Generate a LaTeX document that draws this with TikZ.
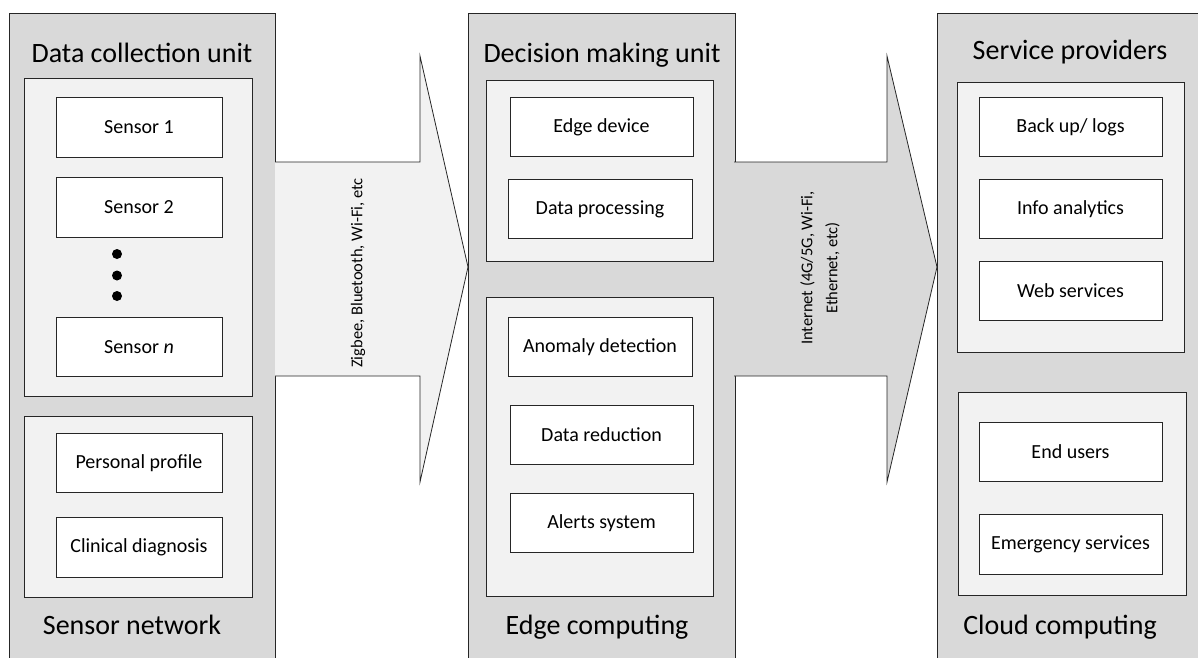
\documentclass[tikz,border=0pt]{standalone}
\usepackage{fontspec}
\setmainfont{Carlito}
\definecolor{colgray}{HTML}{D9D9D9}
\definecolor{inngray}{HTML}{F2F2F2}
\begin{document}
\begin{tikzpicture}[x=1pt,y=-1pt,
  colbox/.style={draw=black!85, line width=0.8pt, fill=colgray, anchor=north west, inner sep=0pt},
  innbox/.style={draw=black!85, line width=0.8pt, fill=inngray, anchor=north west, inner sep=0pt},
  itembox/.style={draw=black!85, line width=0.8pt, fill=white, inner sep=0pt, minimum height=59.5pt, font=\fontsize{20}{24}\selectfont},
  title/.style={anchor=base, inner sep=0pt, font=\fontsize{28}{32}\selectfont},
  arrowlbl/.style={rotate=90, inner sep=0pt, align=center, font=\fontsize{16.5}{25}\selectfont},
  arrowshape/.style={draw=black!85, line width=0.8pt, line join=miter}
]
\useasboundingbox (0,0) rectangle (1198,657);
\clip (0,0) rectangle (1198,657);

% columns
\node[colbox, minimum width=266pt, minimum height=670pt] (colL) at (9,13) {};
\node[colbox, minimum width=267pt, minimum height=670pt] (colM) at (468,13) {};
\node[colbox, minimum width=290pt, minimum height=670pt] (colR) at (937,13) {};

% arrows
\fill[inngray] (275,162) -- (420,162) -- (420,56) -- (468,267) -- (420,482) -- (420,376) -- (275,376) -- cycle;
\draw[arrowshape] (275,162) -- (420,162) -- (420,56) -- (468,267) -- (420,482) -- (420,376) -- (275,376);
\fill[colgray] (734,162) -- (887,162) -- (887,56) -- (937,267) -- (887,482) -- (887,376) -- (734,376) -- cycle;
\draw[arrowshape] (734,162) -- (887,162) -- (887,56) -- (937,267) -- (887,482) -- (887,376) -- (734,376);

\node[arrowlbl] (lbl1) at (358,273) {Zigbee, Bluetooth, Wi-Fi, etc};
\node[arrowlbl] (lbl2) at (820,268) {Internet (4G/5G, Wi-Fi,\\Ethernet, etc)};

% titles
\node[title] (tL) at (142,62.5) {Data collection unit};
\node[title] (tM) at (602,62) {Decision making unit};
\node[title] (tR) at (1070,59) {Service providers};
\node[title] (bL) at (132,634) {Sensor network};
\node[title] (bM) at (597,634) {Edge computing};
\node[title] (bR) at (1060,634) {Cloud computing};

% inner boxes
\node[innbox, minimum width=228pt, minimum height=318pt] (inL1) at (24,78) {};
\node[innbox, minimum width=228pt, minimum height=181pt] (inL2) at (24,416) {};
\node[innbox, minimum width=227pt, minimum height=181pt] (inM1) at (486,80) {};
\node[innbox, minimum width=227pt, minimum height=299pt] (inM2) at (486,297) {};
\node[innbox, minimum width=227pt, minimum height=270pt] (inR1) at (957,82) {};
\node[innbox, minimum width=228pt, minimum height=203pt] (inR2) at (958,392) {};

% items left
\node[itembox, minimum width=166pt] (s1) at (139,127.5) {Sensor 1};
\node[itembox, minimum width=166pt] (s2) at (139,207.5) {Sensor 2};
\node[itembox, minimum width=166pt] (sn) at (139,347) {Sensor \textit{n}};
\node[itembox, minimum width=166pt] (pp) at (139,463) {Personal profile};
\node[itembox, minimum width=166pt] (cd) at (139,547.5) {Clinical diagnosis};
\fill[black] (117,254) circle (5pt) (117,275.5) circle (5pt) (117,296) circle (5pt);

% items middle
\node[itembox, minimum width=183pt] (ed) at (601.5,127) {Edge device};
\node[itembox, minimum width=184pt] (dp) at (600,209) {Data processing};
\node[itembox, minimum width=184pt] (ad) at (600,347) {Anomaly detection};
\node[itembox, minimum width=183pt] (dr) at (601.5,435) {Data reduction};
\node[itembox, minimum width=183pt] (as) at (601.5,523) {Alerts system};

% items right
\node[itembox, minimum width=183pt] (bu) at (1070.5,127) {Back up/ logs};
\node[itembox, minimum width=183pt] (ia) at (1070.5,209) {Info analytics};
\node[itembox, minimum width=183pt] (ws) at (1070.5,291) {Web services};
\node[itembox, minimum width=183pt] (eu) at (1070.5,452) {End users};
\node[itembox, minimum width=183pt] (es) at (1070.5,544.5) {Emergency services};
\end{tikzpicture}
\end{document}
